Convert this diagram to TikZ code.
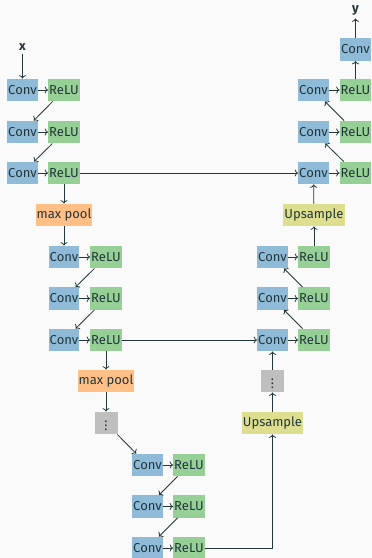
\documentclass[tikz,border=0pt]{standalone}
\usepackage{fontspec}
\setmainfont{Fira Sans}
\definecolor{unbg}{RGB}{250,250,250}
\definecolor{untext}{RGB}{35,55,59}
\definecolor{unblue}{RGB}{143,187,217}
\definecolor{ungreen}{RGB}{150,208,150}
\definecolor{unorange}{RGB}{255,191,135}
\definecolor{unolive}{RGB}{222,222,145}
\definecolor{ungray}{RGB}{191,191,191}
\usetikzlibrary{arrows.meta,positioning}

\begin{document}
\begin{tikzpicture}[
    x=1pt, y=-1pt,
    layer/.style={rectangle, minimum height=22.5pt, inner xsep=1pt, inner ysep=0pt,
                  text=untext, font=\fontsize{13}{13}\selectfont},
    conv/.style={layer, fill=unblue},
    relu/.style={layer, fill=ungreen},
    pool/.style={layer, fill=unorange},
    upsm/.style={layer, fill=unolive},
    dots/.style={layer, fill=ungray, minimum width=23pt},
    lbl/.style={text=untext, font=\fontsize{13}{13}\selectfont\bfseries},
    arr/.style={->, line width=0.8pt, untext}
  ]
    \fill[unbg] (0,0) rectangle (372,558);
    \useasboundingbox (0,0) rectangle (372,558);

    % Encoder, level 1
    \node[lbl] (x) at (22.5, 47) {x};
    \node[conv] (ca1) at (22.5, 90)  {Conv};
    \node[relu] (ra1) at (64, 90)    {ReLU};
    \node[conv] (ca2) at (22.5, 132) {Conv};
    \node[relu] (ra2) at (64, 132)   {ReLU};
    \node[conv] (ca3) at (22.5, 173) {Conv};
    \node[relu] (ra3) at (64, 173)   {ReLU};
    \node[pool] (pa)  at (64, 215)   {max pool};
    \draw[arr] (x) -- (ca1);
    \draw[arr] (ca1) -- (ra1);
    \draw[arr] (ra1) -- (ca2);
    \draw[arr] (ca2) -- (ra2);
    \draw[arr] (ra2) -- (ca3);
    \draw[arr] (ca3) -- (ra3);
    \draw[arr] (ra3) -- (pa);

    % Encoder, level 2
    \node[conv] (cb1) at (64, 257)   {Conv};
    \node[relu] (rb1) at (106, 257)  {ReLU};
    \node[conv] (cb2) at (64, 298.5) {Conv};
    \node[relu] (rb2) at (106, 298.5){ReLU};
    \node[conv] (cb3) at (64, 340)   {Conv};
    \node[relu] (rb3) at (106, 340)  {ReLU};
    \node[pool] (pb)  at (106, 381)  {max pool};
    \node[dots] (db)  at (106, 423)  {$\vdots$};
    \draw[arr] (pa) -- (cb1);
    \draw[arr] (cb1) -- (rb1);
    \draw[arr] (rb1) -- (cb2);
    \draw[arr] (cb2) -- (rb2);
    \draw[arr] (rb2) -- (cb3);
    \draw[arr] (cb3) -- (rb3);
    \draw[arr] (rb3) -- (pb);
    \draw[arr] (pb) -- (db);

    % Bottleneck
    \node[conv] (cc1) at (147.5, 465)   {Conv};
    \node[relu] (rc1) at (189, 465)     {ReLU};
    \node[conv] (cc2) at (147.5, 506.5) {Conv};
    \node[relu] (rc2) at (189, 506.5)   {ReLU};
    \node[conv] (cc3) at (147.5, 548)   {Conv};
    \node[relu] (rc3) at (189, 548)     {ReLU};
    \draw[arr] (db) -- (cc1);
    \draw[arr] (cc1) -- (rc1);
    \draw[arr] (rc1) -- (cc2);
    \draw[arr] (cc2) -- (rc2);
    \draw[arr] (rc2) -- (cc3);
    \draw[arr] (cc3) -- (rc3);

    % Decoder, level 2
    \node[upsm] (ub) at (272.5, 423) {Upsample};
    \node[dots] (de) at (272.5, 381) {$\vdots$};
    \node[conv] (ce3) at (272.5, 340)   {Conv};
    \node[relu] (re3) at (314, 340)     {ReLU};
    \node[conv] (ce2) at (272.5, 298.5) {Conv};
    \node[relu] (re2) at (314, 298.5)   {ReLU};
    \node[conv] (ce1) at (272.5, 257)   {Conv};
    \node[relu] (re1) at (314, 257)     {ReLU};
    \node[upsm] (ua) at (314, 215) {Upsample};
    \draw[arr] (rc3) -| (ub);
    \draw[arr] (ub) -- (de);
    \draw[arr] (de) -- (ce3);
    \draw[arr] (rb3) -- (ce3);
    \draw[arr] (ce3) -- (re3);
    \draw[arr] (re3) -- (ce2);
    \draw[arr] (ce2) -- (re2);
    \draw[arr] (re2) -- (ce1);
    \draw[arr] (ce1) -- (re1);
    \draw[arr] (re1) -- (ua);

    % Decoder, level 1
    \node[conv] (cf3) at (313.5, 173) {Conv};
    \node[relu] (rf3) at (355.5, 173) {ReLU};
    \node[conv] (cf2) at (313.5, 132) {Conv};
    \node[relu] (rf2) at (355.5, 132) {ReLU};
    \node[conv] (cf1) at (313.5, 90)  {Conv};
    \node[relu] (rf1) at (355.5, 90)  {ReLU};
    \node[conv] (out) at (355.5, 49.5) {Conv};
    \node[lbl] (y) at (355.5, 10) {y};
    \draw[arr] (ua) -- (cf3);
    \draw[arr] (ra3) -- (cf3);
    \draw[arr] (cf3) -- (rf3);
    \draw[arr] (rf3) -- (cf2);
    \draw[arr] (cf2) -- (rf2);
    \draw[arr] (rf2) -- (cf1);
    \draw[arr] (cf1) -- (rf1);
    \draw[arr] (rf1) -- (out);
    \draw[arr] (out) -- (y);
  \end{tikzpicture}
\end{document}
